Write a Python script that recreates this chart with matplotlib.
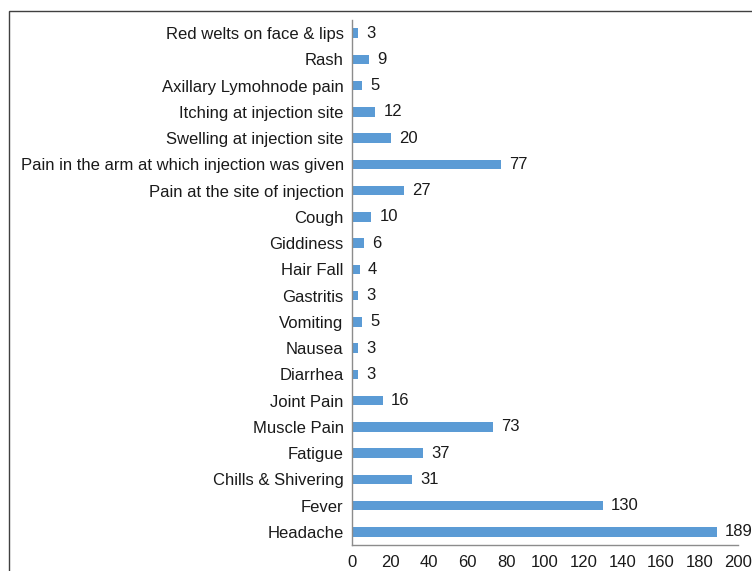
import matplotlib
matplotlib.use("Agg")
import matplotlib.pyplot as plt
from matplotlib.patches import Rectangle

symptoms = [
    "Headache", "Fever", "Chills & Shivering", "Fatigue", "Muscle Pain",
    "Joint Pain", "Diarrhea", "Nausea", "Vomiting", "Gastritis",
    "Hair Fall", "Giddiness", "Cough", "Pain at the site of injection",
    "Pain in the arm at which injection was given", "Swelling at injection site",
    "Itching at injection site", "Axillary Lymohnode pain", "Rash",
    "Red welts on face & lips",
]
counts = [189, 130, 31, 37, 73, 16, 3, 3, 5, 3, 4, 6, 10, 27, 77, 20, 12, 5, 9, 3]
x_ticks = [0, 20, 40, 60, 80, 100, 120, 140, 160, 180, 200]

plt.rcParams["font.family"] = ["Liberation Sans", "DejaVu Sans"]
FS = 12

W, H = 752, 571
fig = plt.figure(figsize=(W / 100, H / 100), dpi=100)
fig.patch.set_facecolor("white")

# frame around the chart area
fig.add_artist(Rectangle((8.5 / W, -0.1), 1.2, 1.1 - 11 / H, transform=fig.transFigure,
                         fill=False, edgecolor="#404040", linewidth=1.0))

ax = fig.add_axes([352 / W, 1 - 545 / H, (738 - 352) / W, (545 - 20) / H])
y = list(range(len(symptoms)))
ax.barh(y, counts, height=0.36, color="#5B9BD5")
for yi, v in zip(y, counts):
    ax.annotate(str(v), (v, yi), xytext=(6, 0), textcoords="offset points",
                va="center", ha="left", fontsize=FS, color="#1a1a1a",
                annotation_clip=False)

ax.set_xlim(0, 200)
ax.set_ylim(-0.5, len(symptoms) - 0.5)
ax.set_xticks(x_ticks)
ax.set_yticks(y)
ax.set_yticklabels(symptoms)
ax.tick_params(axis="both", length=0, labelsize=FS, colors="#1a1a1a")
ax.tick_params(axis="y", pad=6)
ax.tick_params(axis="x", pad=7)
for s in ("top", "right"):
    ax.spines[s].set_visible(False)
for s in ("left", "bottom"):
    ax.spines[s].set_color("#8c8c8c")
    ax.spines[s].set_linewidth(1.0)

fig.savefig("out.png", dpi=100)
